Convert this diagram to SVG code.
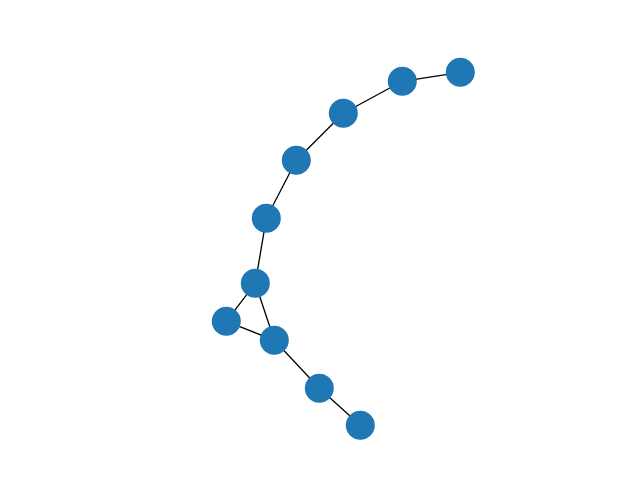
<svg xmlns="http://www.w3.org/2000/svg" width="640" height="480" viewBox="0 0 640 480">
<style>
.edge{stroke:#000;stroke-width:1.3;fill:none}
.node circle{fill:#1f77b4}
</style>
<rect width="640" height="480" fill="#fff"/>
<g id="edges">
<line class="edge" x1="460.3" y1="72.3" x2="402.3" y2="81.3"/>
<line class="edge" x1="402.3" y1="81.3" x2="343.3" y2="113.3"/>
<line class="edge" x1="343.3" y1="113.3" x2="296.3" y2="160.3"/>
<line class="edge" x1="296.3" y1="160.3" x2="266.3" y2="218.3"/>
<line class="edge" x1="266.3" y1="218.3" x2="255.3" y2="283.3"/>
<line class="edge" x1="255.3" y1="283.3" x2="226.3" y2="321.3"/>
<line class="edge" x1="255.3" y1="283.3" x2="274.3" y2="340.3"/>
<line class="edge" x1="226.3" y1="321.3" x2="274.3" y2="340.3"/>
<line class="edge" x1="274.3" y1="340.3" x2="319.3" y2="388.3"/>
<line class="edge" x1="319.3" y1="388.3" x2="360.3" y2="425.3"/>
</g>
<g id="n1" class="node"><circle cx="460.3" cy="72.3" r="14.5"/></g>
<g id="n2" class="node"><circle cx="402.3" cy="81.3" r="14.5"/></g>
<g id="n3" class="node"><circle cx="343.3" cy="113.3" r="14.5"/></g>
<g id="n4" class="node"><circle cx="296.3" cy="160.3" r="14.5"/></g>
<g id="n5" class="node"><circle cx="266.3" cy="218.3" r="14.5"/></g>
<g id="n6" class="node"><circle cx="255.3" cy="283.3" r="14.5"/></g>
<g id="n7" class="node"><circle cx="226.3" cy="321.3" r="14.5"/></g>
<g id="n8" class="node"><circle cx="274.3" cy="340.3" r="14.5"/></g>
<g id="n9" class="node"><circle cx="319.3" cy="388.3" r="14.5"/></g>
<g id="n10" class="node"><circle cx="360.3" cy="425.3" r="14.5"/></g>
</svg>
